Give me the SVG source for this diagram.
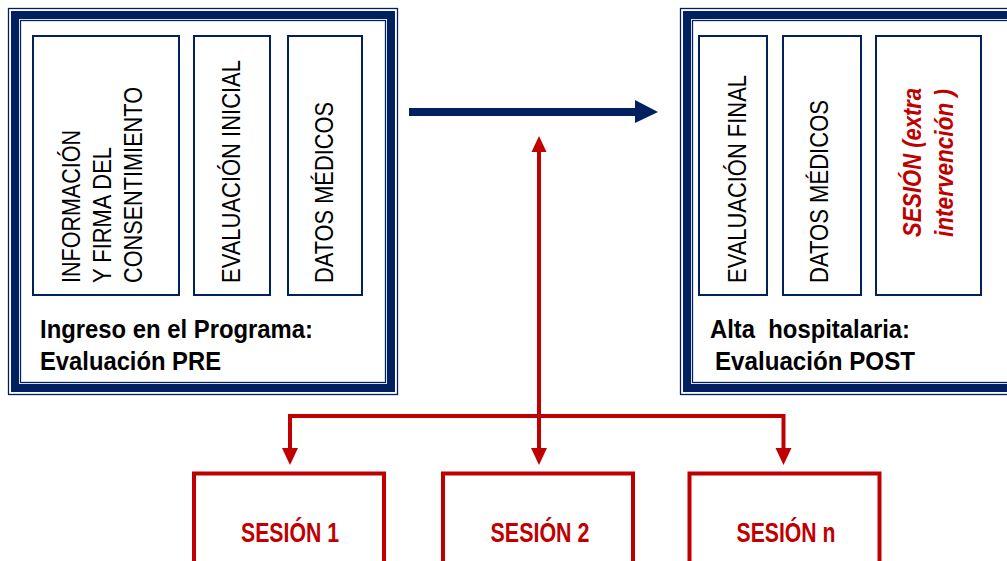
<svg xmlns="http://www.w3.org/2000/svg" width="1007" height="561" viewBox="0 0 1007 561">
  <defs>
    <style>
      .frame-thin { fill: none; stroke: #002060; stroke-width: 1.3; }
      .frame-thick { fill: none; stroke: #002060; stroke-width: 8; }
      .cell { fill: #ffffff; stroke: #002060; stroke-width: 2; }
      .vt { font-family: "Liberation Sans Narrow", "Liberation Sans", Arial, sans-serif; font-size: 26px; fill: #000000; }
      .vt-red { font-family: "Liberation Sans Narrow", "Liberation Sans", Arial, sans-serif; font-size: 25px; font-weight: bold; font-style: italic; fill: #C00000; }
      .caption { font-family: "Liberation Sans Narrow", "Liberation Sans", Arial, sans-serif; font-size: 25.5px; font-weight: bold; fill: #000000; }
      .session { fill: #ffffff; stroke: #C00000; stroke-width: 4; }
      .session-label { font-family: "Liberation Sans Narrow", "Liberation Sans", Arial, sans-serif; font-size: 27px; font-weight: bold; fill: #C00000; text-anchor: middle; }
      .red-line { fill: none; stroke: #C00000; stroke-width: 4; stroke-linejoin: miter; }
    </style>
  </defs>

  <rect x="0" y="0" width="1007" height="561" fill="#ffffff"/>

  <!-- PRE evaluation frame -->
  <g id="pre">
    <rect class="frame-thin" x="8.5" y="8.5" width="389" height="386"/>
    <rect class="frame-thick" x="15" y="15" width="376" height="373"/>
    <rect class="frame-thin" x="20.5" y="20.5" width="365" height="362"/>
    <g id="pre-consent">
      <rect class="cell" x="33" y="36" width="146" height="259"/>
      <text class="vt" transform="translate(79.5,283) rotate(-90)" textLength="153" lengthAdjust="spacingAndGlyphs">INFORMACIÓN</text>
      <text class="vt" transform="translate(110.5,283) rotate(-90)" textLength="136" lengthAdjust="spacingAndGlyphs">Y FIRMA DEL</text>
      <text class="vt" transform="translate(141.5,283) rotate(-90)" textLength="196" lengthAdjust="spacingAndGlyphs">CONSENTIMIENTO</text>
    </g>
    <g id="pre-initial">
      <rect class="cell" x="194" y="36" width="76" height="259"/>
      <text class="vt" transform="translate(240,283) rotate(-90)" textLength="223" lengthAdjust="spacingAndGlyphs">EVALUACIÓN INICIAL</text>
    </g>
    <g id="pre-medical">
      <rect class="cell" x="288" y="36" width="74" height="259"/>
      <text class="vt" transform="translate(333,283) rotate(-90)" textLength="181" lengthAdjust="spacingAndGlyphs">DATOS MÉDICOS</text>
    </g>
    <text class="caption" x="40" y="338" textLength="273" lengthAdjust="spacingAndGlyphs">Ingreso en el Programa:</text>
    <text class="caption" x="40" y="370" textLength="181" lengthAdjust="spacingAndGlyphs">Evaluación PRE</text>
  </g>

  <!-- POST evaluation frame -->
  <g id="post">
    <rect class="frame-thin" x="680.5" y="8.5" width="389" height="386"/>
    <rect class="frame-thick" x="687" y="15" width="376" height="373"/>
    <rect class="frame-thin" x="692.5" y="20.5" width="365" height="362"/>
    <g id="post-final">
      <rect class="cell" x="699" y="36" width="68" height="259"/>
      <text class="vt" transform="translate(746,283) rotate(-90)" textLength="208" lengthAdjust="spacingAndGlyphs">EVALUACIÓN FINAL</text>
    </g>
    <g id="post-medical">
      <rect class="cell" x="783" y="36" width="78" height="259"/>
      <text class="vt" transform="translate(828,283) rotate(-90)" textLength="183" lengthAdjust="spacingAndGlyphs">DATOS MÉDICOS</text>
    </g>
    <g id="post-extra">
      <rect class="cell" x="876" y="36" width="105" height="259"/>
      <text class="vt-red" transform="translate(921,237) rotate(-90)" textLength="149" lengthAdjust="spacingAndGlyphs">SESIÓN (extra</text>
      <text class="vt-red" transform="translate(953,237) rotate(-90)" textLength="148" lengthAdjust="spacingAndGlyphs">intervención )</text>
    </g>
    <text class="caption" x="710" y="338" textLength="200" lengthAdjust="spacingAndGlyphs">Alta&#160; hospitalaria:</text>
    <text class="caption" x="715" y="370" textLength="200" lengthAdjust="spacingAndGlyphs">Evaluación POST</text>
  </g>

  <!-- Sessions -->
  <g id="session-1">
    <rect class="session" x="194" y="473.5" width="190" height="110"/>
    <text class="session-label" x="290" y="542" textLength="98" lengthAdjust="spacingAndGlyphs">SESIÓN 1</text>
  </g>
  <g id="session-2">
    <rect class="session" x="443" y="473.5" width="190" height="110"/>
    <text class="session-label" x="540" y="542" textLength="99" lengthAdjust="spacingAndGlyphs">SESIÓN 2</text>
  </g>
  <g id="session-n">
    <rect class="session" x="689.5" y="473.5" width="190" height="110"/>
    <text class="session-label" x="786" y="542" textLength="99" lengthAdjust="spacingAndGlyphs">SESIÓN n</text>
  </g>

  <!-- Connectors -->
  <g id="connectors">
    <!-- PRE to POST -->
    <line x1="409" y1="112" x2="637" y2="112" stroke="#002060" stroke-width="8"/>
    <polygon points="635,100 658,112 635,123" fill="#002060"/>
    <!-- session trunk up toward the PRE/POST flow -->
    <line class="red-line" x1="539" y1="416" x2="539" y2="150"/>
    <polygon points="531.5,152 539,136 546.5,152" fill="#C00000"/>
    <!-- distribution to sessions -->
    <polyline class="red-line" points="290,449 290,416 783.5,416 783.5,449"/>
    <line class="red-line" x1="539" y1="416" x2="539" y2="449"/>
    <polygon points="282,448 298,448 290,465" fill="#C00000"/>
    <polygon points="531,448 547,448 539,465" fill="#C00000"/>
    <polygon points="775.5,448 791.5,448 783.5,465" fill="#C00000"/>
  </g>
</svg>
